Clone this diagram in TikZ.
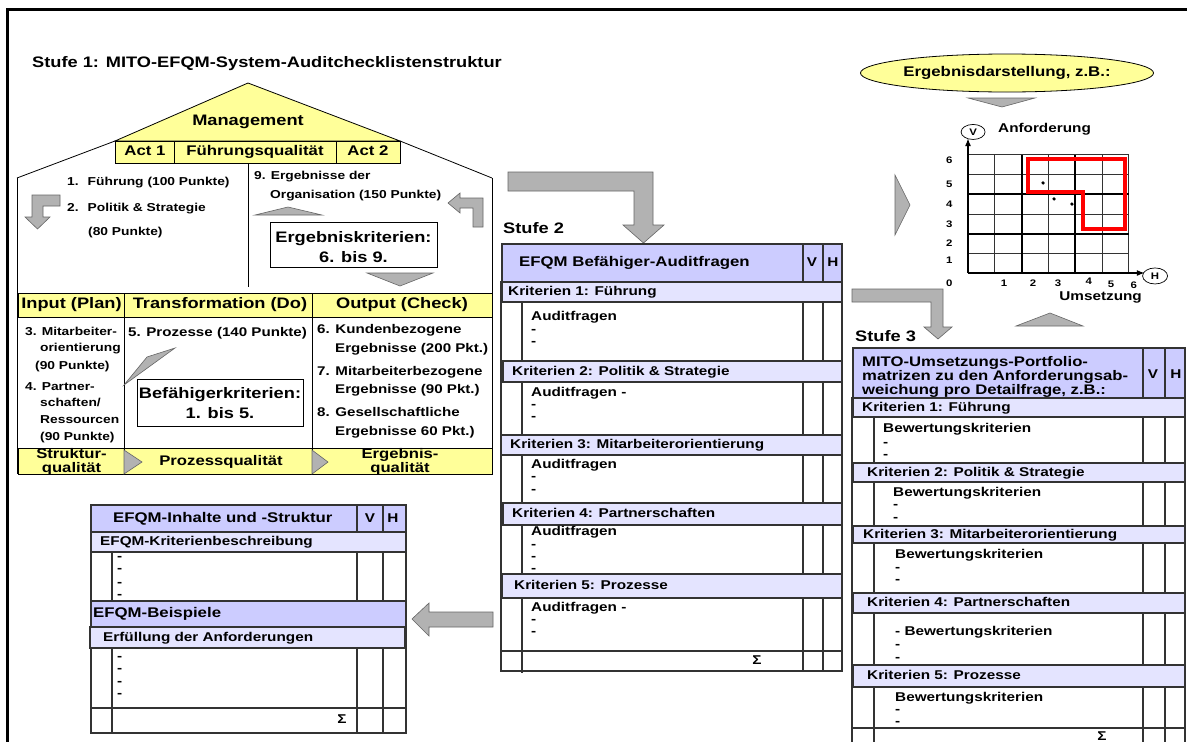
\documentclass[tikz,border=0pt]{standalone}
\usepackage{fontspec}
\setmainfont{Liberation Sans}[FakeStretch=1.2]
\usetikzlibrary{shapes.geometric}
\usetikzlibrary{positioning}
\usetikzlibrary{arrows.meta}
\definecolor{hyellow}{HTML}{FFFF99}
\definecolor{tviolet}{HTML}{CCCCFF}
\definecolor{tlight}{HTML}{E4E4FF}
\definecolor{agray}{HTML}{B2B2B2}
\tikzset{
    frame/.style = {draw=black,line width=3pt},
    wall/.style = {draw=black,line width=0.8pt},
    yband/.style = {draw=black,fill=hyellow,line width=0.8pt},
    gblock/.style = {draw=black!60,fill=agray,line width=0.6pt},
    tline/.style = {draw=black!80,line width=1.2pt},
    thead/.style = {draw=black!80,fill=tviolet,line width=1.2pt},
    tband/.style = {draw=black!80,fill=tlight,line width=1.2pt},
    gthin/.style = {draw=black!80,line width=0.7pt},
    gthick/.style = {draw=black,line width=2pt},
    redbox/.style = {draw=red,line width=3.5pt},
    axis/.style = {-{Latex[length=8pt,width=6pt]},line width=2pt},
    ftitle/.style = {inner sep=0pt,text height=0.7em,text depth=0pt,font=\fontsize{15.2}{18}\selectfont\bfseries},
    fmid/.style = {inner sep=0pt,text height=0.7em,text depth=0pt,font=\fontsize{14}{14}\selectfont\bfseries},
    ftab/.style = {anchor=west,inner sep=0pt,text height=0.7em,text depth=0pt,font=\fontsize{12.75}{14}\selectfont\bfseries},
    fhouse/.style = {anchor=west,inner sep=0pt,text height=0.7em,text depth=0pt,font=\fontsize{11.5}{13}\selectfont\bfseries},
    fhouseb/.style = {anchor=west,inner sep=0pt,text height=0.7em,text depth=0pt,font=\fontsize{12.6}{13}\selectfont\bfseries},
    fbox/.style = {inner sep=0pt,align=center,font=\fontsize{15.2}{20}\selectfont\bfseries},
    fduo/.style = {inner sep=0pt,align=center,font=\fontsize{13.9}{14}\selectfont\bfseries},
    fnum/.style = {inner sep=0pt,font=\fontsize{9.5}{10}\selectfont\bfseries},
}

\begin{document}
\begin{tikzpicture}[x=1pt,y=-1pt]
\useasboundingbox (0,0) rectangle (1187,742);
\fill[white] (0,0) rectangle (1187,742);
\draw[frame] (7.5,745) -- (7.5,9) -- (1190,9);
\node[ftitle,anchor=west] (ttl) at (32,64) {Stufe 1: MITO-EFQM-System-Auditchecklistenstruktur};
%
% house
\draw[wall] (17,178) -- (115,141) (400,141) -- (492,178);
\draw[wall] (17,178) -- (17,474) (492,178) -- (492,474);
\draw[yband] (115,141) -- (248,83) -- (400,141) -- cycle;
\node[ftitle] (mgmt) at (248,122) {Management};
\draw[yband] (115,141) rectangle (400,163);
\draw[wall] (174,141) -- (174,163) (336,141) -- (336,163);
\node[fmid] (act1) at (145,152) {Act 1};
\node[fmid] (fq) at (255,152) {Führungsqualität};
\node[fmid] (act2) at (368,152) {Act 2};
\draw[wall] (248,163) -- (248,287);
\node[fhouse] (k1) at (67,182) {1.\hspace{9pt}Führung (100 Punkte)};
\node[fhouse] (k2) at (67,208) {2.\hspace{9pt}Politik \& Strategie};
\node[fhouse] (k2b) at (88,232) {(80 Punkte)};
\node[fhouse] (k9) at (254,176) {9. Ergebnisse der};
\node[fhouse] (k9b) at (270,195) {Organisation (150 Punkte)};
\draw[gblock] (60,195) -- (32,195) -- (32,217) -- (25,217) -- (37.5,229) -- (50,217) -- (43,217) -- (43,206) -- (60,206) -- cycle;
\draw[gblock] (448,203) -- (460,193) -- (460,198) -- (483,198) -- (483,227) -- (473,227) -- (473,208) -- (460,208) -- (460,213) -- cycle;
\draw[gblock] (255,215) -- (288,207) -- (322,215) -- cycle;
\draw[wall,fill=white] (270,222) rectangle (437,267);
\node[fbox] (erg) at (353.5,247) {Ergebniskriterien:\\6. bis 9.};
\draw[gblock] (367,273) -- (433,273) -- (400,286) -- cycle;
%
\draw[yband] (18,293) rectangle (492,317);
\draw[wall] (124,293) -- (124,474) (312,293) -- (312,474);
\node[ftitle] (inp) at (71.5,305) {Input (Plan)};
\node[ftitle] (trf) at (220,305) {Transformation (Do)};
\node[ftitle] (outp) at (402,305) {Output (Check)};
\node[fhouse] (k3) at (25,332) {3. Mitarbeiter-};
\node[fhouse] (k3b) at (40,348) {orientierung};
\node[fhouse] (k3c) at (35,366) {(90 Punkte)};
\node[fhouse] (k4) at (25,387) {4. Partner-};
\node[fhouse] (k4b) at (40,403) {schaften/};
\node[fhouse] (k4c) at (40,420) {Ressourcen};
\node[fhouse] (k4d) at (40,437) {(90 Punkte)};
\node[fhouseb] (k5) at (128,333) {5. Prozesse (140 Punkte)};
\draw[gblock] (124,385) -- (147,357) -- (175,348) -- cycle;
\draw[wall,fill=white] (137,379) rectangle (303,426);
\node[fbox] (bef) at (220,403) {Befähigerkriterien:\\1. bis 5.};
\node[fhouseb] (k6) at (317,330) {6. Kundenbezogene};
\node[fhouseb] (k6b) at (335,349) {Ergebnisse (200 Pkt.)};
\node[fhouseb] (k7) at (317,372) {7. Mitarbeiterbezogene};
\node[fhouseb] (k7b) at (335,390) {Ergebnisse (90 Pkt.)};
\node[fhouseb] (k8) at (317,413) {8. Gesellschaftliche};
\node[fhouseb] (k8b) at (335,432) {Ergebnisse 60 Pkt.)};
\draw[yband] (18,448) rectangle (492,474);
\draw[wall] (124,448) -- (124,474) (312,448) -- (312,474);
\draw[gblock] (124,450) -- (142,462) -- (124,474) -- cycle;
\draw[gblock] (312,450) -- (328,462) -- (312,474) -- cycle;
\node[fduo] (sq) at (71.5,461.5) {Struktur-\\qualität};
\node[fduo,text height=0.7em,text depth=0pt] (pq) at (221,462) {Prozessqualität};
\node[fduo] (eq) at (400,461.5) {Ergebnis-\\qualität};
%
% Stufe 2
\draw[gblock] (508,172) -- (653,172) -- (653,225) -- (664,225) -- (643.5,243) -- (623,225) -- (634,225) -- (634,191) -- (508,191) -- cycle;
\node[ftitle,anchor=west] (st2) at (503,230) {Stufe 2};
\draw[thead] (502,244) rectangle (842,282);
\draw[tline] (501,282) rectangle (842,671);
\draw[tline] (522,282) -- (522,673);
\draw[tline] (803,244) -- (803,671) (823,244) -- (823,671);
\draw[tline] (501,651) -- (842,651);
\node[fmid,anchor=west] (h2) at (519,263) {EFQM Befähiger-Auditfragen};
\node[ftab,anchor=center] (v2) at (812,263) {V};
\node[ftab,anchor=center] (hh2) at (833,263) {H};
\draw[tband] (502,282) rectangle (842,302);
\node[ftab] (s21) at (508,292) {Kriterien 1: Führung};
\draw[tband] (503,361) rectangle (842,382);
\node[ftab] (s22) at (512,371.5) {Kriterien 2: Politik \& Strategie};
\draw[tband] (501,435) rectangle (842,455);
\node[ftab] (s23) at (510,445) {Kriterien 3: Mitarbeiterorientierung};
\draw[tband] (503,503) rectangle (842,525);
\node[ftab] (s24) at (512,514) {Kriterien 4: Partnerschaften};
\draw[tband] (502,574) rectangle (842,598);
\node[ftab] (s25) at (514,586) {Kriterien 5: Prozesse};
\node[ftab] (q1) at (531,317) {Auditfragen};
\node[ftab] (q2) at (531,393) {Auditfragen -};
\node[ftab] (q3) at (531,465) {Auditfragen};
\node[ftab] (q4) at (531,532) {Auditfragen};
\node[ftab] (q5) at (531,608) {Auditfragen -};
\foreach \y in {330,342,405,417,477,490,545,557,569,620,632}
  \node[ftab] (sa\y) at (531,\y) {-};
\node[ftab,anchor=center] (sum2) at (757,661) {Σ};
%
% Stufe 3
\draw[gblock] (852,289) -- (943,289) -- (943,327) -- (952,327) -- (938,339) -- (924,327) -- (931,327) -- (931,302) -- (852,302) -- cycle;
\node[ftitle,anchor=west] (st3) at (855,338) {Stufe 3};
\draw[thead] (853,348) rectangle (1185,398);
\draw[tline] (852,398) rectangle (1185,745);
\draw[tline] (874,398) -- (874,745);
\draw[tline] (1143,348) -- (1143,745) (1165,348) -- (1165,745);
\draw[tline] (852,728) -- (1185,728);
\node[fduo,align=left,anchor=west,font=\fontsize{13.9}{13}\selectfont\bfseries] (h3) at (862,376.5) {MITO-Umsetzungs-Portfolio-\\matrizen zu den Anforderungsab-\\weichung pro Detailfrage, z.B.:};
\node[ftab,anchor=center] (v3) at (1153,375) {V};
\node[ftab,anchor=center] (hh3) at (1176,375) {H};
\draw[tband] (853,398) rectangle (1185,417);
\node[ftab] (s31) at (862,407.5) {Kriterien 1: Führung};
\draw[tband] (853,463) rectangle (1185,482);
\node[ftab] (s32) at (867,472.5) {Kriterien 2: Politik \& Strategie};
\draw[tband] (853,526) rectangle (1185,543);
\node[ftab] (s33) at (863,534.5) {Kriterien 3: Mitarbeiterorientierung};
\draw[tband] (853,593) rectangle (1185,613);
\node[ftab] (s34) at (867,603) {Kriterien 4: Partnerschaften};
\draw[tband] (853,665) rectangle (1185,687);
\node[ftab] (s35) at (867,676) {Kriterien 5: Prozesse};
\node[ftab] (b1) at (883,429) {Bewertungskriterien};
\node[ftab] (b2) at (893,493) {Bewertungskriterien};
\node[ftab] (b3) at (895,555) {Bewertungskriterien};
\node[ftab] (b4) at (895,632) {- Bewertungskriterien};
\node[ftab] (b5) at (895,698) {Bewertungskriterien};
\foreach \y in {443,455} \node[ftab] (sb\y) at (883,\y) {-};
\foreach \y in {505,518} \node[ftab] (sb\y) at (893,\y) {-};
\foreach \y in {568,580,645,658,710,722} \node[ftab] (sb\y) at (895,\y) {-};
\node[ftab,anchor=center] (sum3) at (1102,737) {Σ};
%
% EFQM-Inhalte
\draw[thead] (91,505) rectangle (406,532);
\draw[tline] (91,532) rectangle (406,733);
\draw[tline] (112,552) -- (112,733);
\draw[tline] (357,505) -- (357,733) (383,505) -- (383,733);
\draw[tline] (91,708) -- (406,708);
\node[fmid,anchor=west] (h1) at (113,518.5) {EFQM-Inhalte und -Struktur};
\node[ftab,anchor=center] (v1) at (370,518.5) {V};
\node[ftab,anchor=center] (hh1) at (393,518.5) {H};
\draw[tband] (91,532) rectangle (406,552);
\node[ftab] (kb) at (100,542) {EFQM-Kriterienbeschreibung};
\draw[thead] (91,601) rectangle (406,627);
\node[fmid,anchor=west] (bsp) at (93,614) {EFQM-Beispiele};
\draw[tband] (90,627) rectangle (405,648);
\node[ftab] (erf) at (103,637.5) {Erfüllung der Anforderungen};
\foreach \y in {557,569,583,595,657,669,682,694}
  \node[ftab] (sc\y) at (117,\y) {-};
\node[ftab,anchor=center] (sum1) at (342,720) {Σ};
\draw[gblock] (412,619) -- (429,603) -- (429,612) -- (493,612) -- (493,627) -- (429,627) -- (429,636) -- cycle;
%
% Ergebnisdarstellung
\node[ellipse,draw=black,line width=0.8pt,fill=hyellow,minimum width=239pt,minimum height=38pt,inner sep=0pt,fmid] (ell) at (1007,73) {Ergebnisdarstellung, z.B.:};
\draw[gblock] (968,98) -- (1035,98) -- (1002,107) -- cycle;
\draw[gblock] (895,175) -- (910,205) -- (895,235) -- cycle;
\draw[gblock] (1016,326) -- (1050,313) -- (1083,326) -- cycle;
\begin{scope}[shift={(968,273)},x=26.8pt,y=19.7pt]
\foreach \i in {1,3,5,6} \draw[gthin] (\i,0) -- (\i,6) (0,\i) -- (6,\i);
\draw[gthick] (2,0) -- (2,6) (4,0) -- (4,6) (0,2) -- (6,2) (0,4) -- (6,4);
\draw[axis] (0,0) -- (0,6.85);
\draw[axis] (0,0) -- (6.6,0);
\node[ellipse,draw=black,line width=0.7pt,fill=white,minimum width=24pt,minimum height=15pt,inner sep=0pt,fnum] (av) at (0.19,7.16) {V};
\node[ellipse,draw=black,line width=0.7pt,fill=white,minimum width=25pt,minimum height=16pt,inner sep=0pt,fnum] (ah) at (6.98,-0.15) {H};
\draw[redbox] (2.24,5.79) -- (5.86,5.79) -- (5.86,2.23) -- (4.29,2.23) -- (4.29,4.11) -- (2.24,4.11) -- cycle;
\fill (2.8,4.57) circle (1.8pt) (3.21,3.76) circle (1.8pt) (3.88,3.5) circle (1.8pt);
\foreach \v/\yy in {6/5.74,5/4.52,4/3.5,3/2.49,2/1.52,1/0.66,0/-0.5}
  \node[fnum] (yl\v) at (-0.7,\yy) {\v};
\foreach \v/\xx/\yy in {1/1.34/-0.5,2/2.43/-0.5,3/3.36/-0.5,4/4.51/-0.44,5/5.34/-0.56,6/6.19/-0.6}
  \node[fnum] (xl\v) at (\xx,\yy) {\v};
\end{scope}
\node[ftab] (anf) at (998,129) {Anforderung};
\node[ftab,anchor=east] (ums) at (1142,297) {Umsetzung};

\end{tikzpicture}
\end{document}
